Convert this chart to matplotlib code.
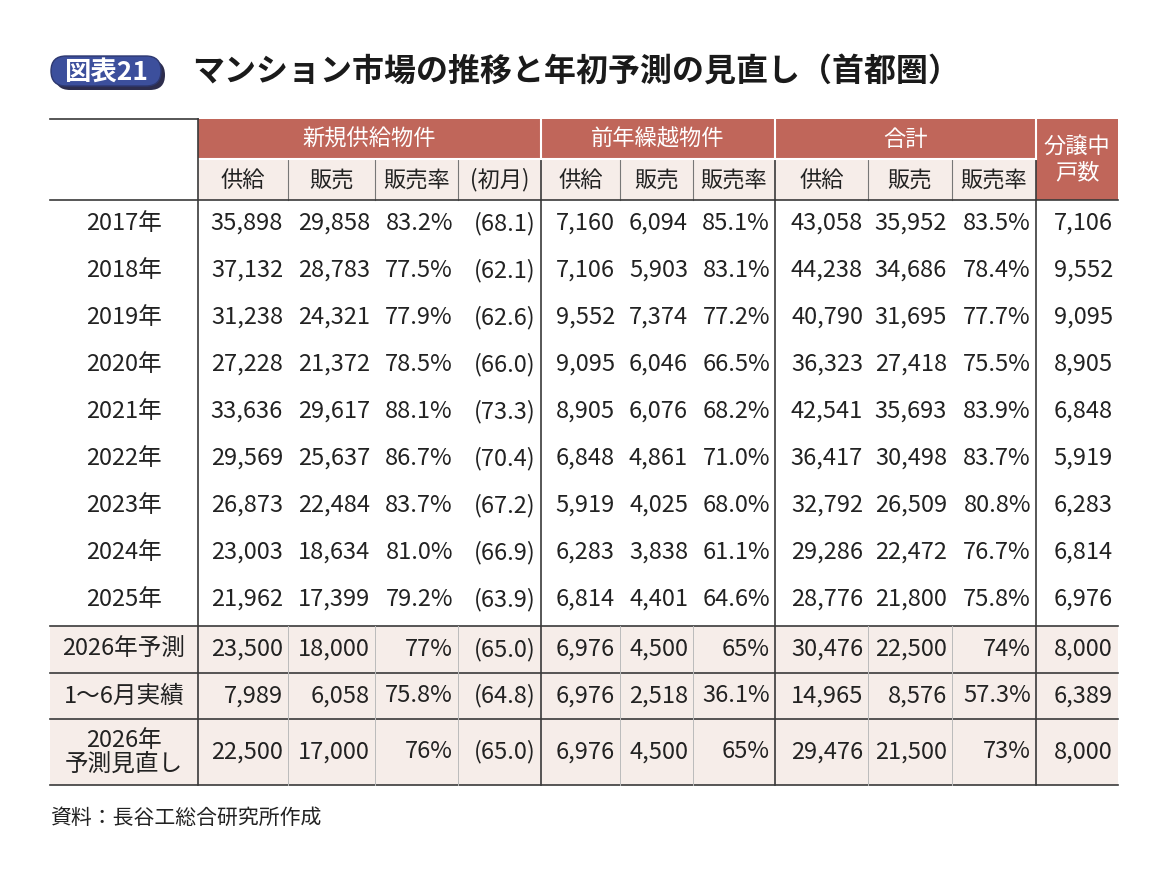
import matplotlib
matplotlib.use("Agg")
import matplotlib.pyplot as plt
from matplotlib.patches import Rectangle, FancyBboxPatch

plt.rcParams['font.family'] = ['Noto Sans CJK JP', 'DejaVu Sans']

row_labels = ["2017年", "2018年", "2019年", "2020年", "2021年", "2022年", "2023年", "2024年", "2025年",
              "2026年予測", "1～6月実績", "2026年\n予測見直し"]
new_supply = ["35,898", "37,132", "31,238", "27,228", "33,636", "29,569", "26,873", "23,003", "21,962", "23,500", "7,989", "22,500"]
new_sales = ["29,858", "28,783", "24,321", "21,372", "29,617", "25,637", "22,484", "18,634", "17,399", "18,000", "6,058", "17,000"]
new_rate = ["83.2%", "77.5%", "77.9%", "78.5%", "88.1%", "86.7%", "83.7%", "81.0%", "79.2%", "77%", "75.8%", "76%"]
new_first = ["(68.1)", "(62.1)", "(62.6)", "(66.0)", "(73.3)", "(70.4)", "(67.2)", "(66.9)", "(63.9)", "(65.0)", "(64.8)", "(65.0)"]
co_supply = ["7,160", "7,106", "9,552", "9,095", "8,905", "6,848", "5,919", "6,283", "6,814", "6,976", "6,976", "6,976"]
co_sales = ["6,094", "5,903", "7,374", "6,046", "6,076", "4,861", "4,025", "3,838", "4,401", "4,500", "2,518", "4,500"]
co_rate = ["85.1%", "83.1%", "77.2%", "66.5%", "68.2%", "71.0%", "68.0%", "61.1%", "64.6%", "65%", "36.1%", "65%"]
tot_supply = ["43,058", "44,238", "40,790", "36,323", "42,541", "36,417", "32,792", "29,286", "28,776", "30,476", "14,965", "29,476"]
tot_sales = ["35,952", "34,686", "31,695", "27,418", "35,693", "30,498", "26,509", "22,472", "21,800", "22,500", "8,576", "21,500"]
tot_rate = ["83.5%", "78.4%", "77.7%", "75.5%", "83.9%", "83.7%", "80.8%", "76.7%", "75.8%", "74%", "57.3%", "73%"]
units = ["7,106", "9,552", "9,095", "8,905", "6,848", "5,919", "6,283", "6,814", "6,976", "8,000", "6,389", "8,000"]

groups = ["新規供給物件", "前年繰越物件", "合計"]
subheads = ["供給", "販売", "販売率", "(初月)", "供給", "販売", "販売率", "供給", "販売", "販売率"]

fig = plt.figure(figsize=(11.7, 8.8), dpi=100)
ax = fig.add_axes([0, 0, 1, 1])
ax.set_xlim(0, 1170); ax.set_ylim(880, 0); ax.axis('off')

RED = "#c0665a"; PINK = "#f6ede9"; DARK = "#3a3a3a"
xs = [50, 198, 288, 375, 458, 541, 620, 693, 775, 868, 952, 1036, 1118]
hy = [119, 159, 200]
ry = [200 + 47 * k for k in range(9)] + [626, 673, 719, 785]

# title
ax.add_patch(FancyBboxPatch((55, 60), 110, 30, boxstyle="round,pad=0,rounding_size=15",
                            fc="#2d2d4d", ec="none", zorder=1))
ax.add_patch(FancyBboxPatch((51, 56), 110, 30, boxstyle="round,pad=0,rounding_size=15",
                            fc="#3c4f9c", ec="#2d3870", lw=1, zorder=2))
ax.text(106, 72, "図表21", color="white", fontsize=19, fontweight="bold", ha="center", va="center", zorder=3)
ax.text(192, 72, "マンション市場の推移と年初予測の見直し（首都圏）", fontsize=23, fontweight="bold",
        ha="left", va="center", color="#1a1a1a")

# header
ax.add_patch(Rectangle((198, hy[0]), 1118 - 198, hy[1] - hy[0], fc=RED, ec="none"))
ax.add_patch(Rectangle((198, hy[1]), 1036 - 198, hy[2] - hy[1], fc=PINK, ec="none"))
ax.add_patch(Rectangle((1036, hy[0]), 1118 - 1036, hy[2] - hy[0], fc=RED, ec="none"))
for gx0, gx1, g in [(198, 541, groups[0]), (541, 775, groups[1]), (775, 1036, groups[2])]:
    ax.text((gx0 + gx1) / 2, 139, g, color="white", fontsize=16, ha="center", va="center")
for i, s in enumerate(subheads):
    ax.text((xs[i + 1] + xs[i + 2]) / 2, 180, s, fontsize=16, ha="center", va="center", color="#222")
ax.text(1077, 160, "分譲中\n戸数", color="white", fontsize=16, ha="center", va="center", linespacing=1.2)
for x in [541, 775, 1036]:
    ax.plot([x, x], [hy[0], hy[1]], color="white", lw=1.5)
for x in xs[2:12]:
    major = x in (541, 775, 1036)
    ax.plot([x, x], [hy[1], hy[2]], color=DARK if major else "#777", lw=1.2 if major else 0.8)
ax.plot([198, 1036], [hy[1], hy[1]], color="white", lw=1.5)

# pink rows
ax.add_patch(Rectangle((50, ry[9]), 1118 - 50, ry[12] - ry[9], fc=PINK, ec="none"))

cols = [new_supply, new_sales, new_rate, new_first, co_supply, co_sales, co_rate,
        tot_supply, tot_sales, tot_rate, units]
for r in range(12):
    y0 = ry[r]
    y1 = ry[r + 1] if r + 1 < len(ry) else ry[r] + 47
    if r == 8:
        y1 = 623
    yc = (y0 + y1) / 2
    ax.text(124, yc, row_labels[r], fontsize=17, ha="center", va="center", color="#222", linespacing=1.05)
    for c, col in enumerate(cols):
        ax.text(xs[c + 2] - 5, yc, col[r], fontsize=17, ha="right", va="center", color="#222")

# lines
ax.plot([50, 198], [hy[0], hy[0]], color=DARK, lw=1.2)
ax.plot([50, 1118], [200, 200], color=DARK, lw=1.2)
for y in [ry[9], ry[10], ry[11], ry[12]]:
    ax.plot([50, 1118], [y, y], color=DARK, lw=1.2)
for x in [198, 541, 775, 1036]:
    ax.plot([x, x], [200 if x != 198 else hy[0], ry[12]], color=DARK, lw=1.2)
for x in [288, 375, 458, 620, 693, 868, 952]:
    ax.plot([x, x], [ry[9], ry[12]], color="#bbb", lw=0.7)

ax.text(50, 818, "資料：長谷工総合研究所作成", fontsize=15, ha="left", va="center", color="#222")

fig.savefig("out.png", dpi=100, facecolor="white")
